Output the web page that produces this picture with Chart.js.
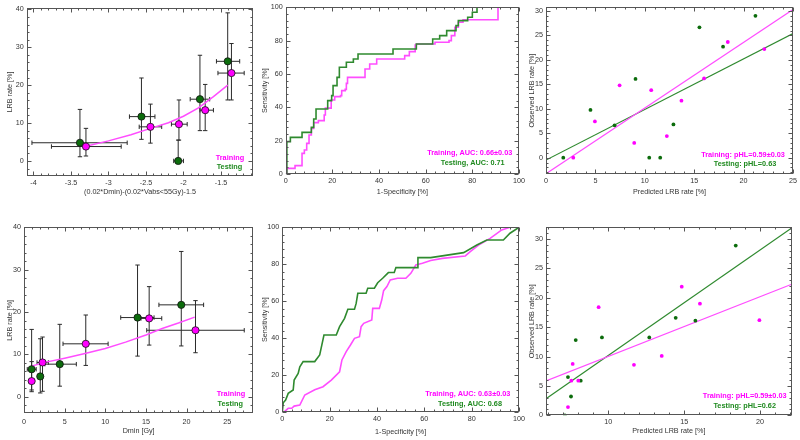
<!DOCTYPE html>
<html>
<head>
<meta charset="utf-8">
<title>LRB rate: models, ROC and calibration</title>
<script src="https://cdn.jsdelivr.net/npm/chart.js@4.4.1/dist/chart.umd.min.js"></script>
<style>
  html, body { margin: 0; padding: 0; background: #fff; }
  #wrap { position: relative; width: 800px; height: 440px; overflow: hidden; background: #fff; }
  #wrap canvas { position: absolute; }
</style>
</head>
<body>
<div id="wrap">
  <canvas id="chart-comb-rate" width="258" height="200" style="left:0;top:0"></canvas>
  <canvas id="chart-comb-roc" width="270" height="200" style="left:258px;top:0"></canvas>
  <canvas id="chart-comb-cal" width="274" height="200" style="left:526px;top:0"></canvas>
  <canvas id="chart-dmin-rate" width="258" height="220" style="left:0;top:220px"></canvas>
  <canvas id="chart-dmin-roc" width="270" height="220" style="left:258px;top:220px"></canvas>
  <canvas id="chart-dmin-cal" width="274" height="220" style="left:526px;top:220px"></canvas>
</div>
<script>
// ---- Top row: combined model (0.02*Dmin)-(0.02*Vabs<55Gy)-1.5 ----
var combTrainX    = [-3.30, -2.44, -2.06, -1.71, -1.36];
var combTrainY    = [3.8, 9.0, 9.7, 13.4, 23.2];
var combTrainXLo  = [-3.76, -2.59, -2.16, -1.78, -1.54];
var combTrainXHi  = [-2.83, -2.29, -1.95, -1.60, -1.19];
var combTrainYLo  = [1.3, 4.7, 5.5, 8.0, 16.1];
var combTrainYHi  = [8.6, 15.0, 16.1, 20.2, 31.0];

var combTestX     = [-3.38, -2.56, -2.07, -1.78, -1.41];
var combTestY     = [4.8, 11.7, 0, 16.3, 26.3];
var combTestXLo   = [-4.02, -2.72, -2.13, -1.91, -1.56];
var combTestXHi   = [-2.75, -2.38, -2.00, -1.65, -1.25];
var combTestYLo   = [1.1, 5.7, 0, 8.0, 16.1];
var combTestYHi   = [13.6, 21.9, 5.5, 27.9, 39.1];

var combFitX      = [-3.3, -3.0, -2.7, -2.44, -2.2, -2.0, -1.8, -1.6, -1.41];
var combFitY      = [3.9, 5.3, 6.9, 8.6, 10.1, 11.8, 14.0, 17.0, 20.0];

var combRocTrainFpr = [0, 0.5, 4, 7, 8, 9, 10, 11, 12, 14, 16.5, 17, 19.5, 21, 23.5, 24, 25.5, 26, 26.5, 34, 36, 39, 51, 53, 55.5, 56, 64, 70, 71, 72.5, 74, 76, 91, 100];
var combRocTrainTpr = [0, 3.4, 5, 12.4, 14.4, 18.4, 23.4, 27.4, 30.8, 32, 35.4, 39.5, 44.4, 46.4, 47, 50, 50.8, 54.4, 58, 63, 66, 69, 71, 73.4, 77.4, 78, 79, 80, 83, 88, 91, 92.5, 100, 100];
var combRocTestFpr  = [0, 0.5, 2, 7, 11, 12, 13, 18, 19.7, 20.3, 22, 23, 26, 29, 31, 46, 56, 63, 66, 69, 73, 74, 78, 80, 82, 100];
var combRocTestTpr  = [0, 19.4, 22, 25, 28, 33, 39, 44, 47, 53, 58, 64, 67, 69, 72, 75, 78, 81, 83, 86, 89, 92, 94, 97, 100, 100];

var combCalTrainX = [2.76, 4.95, 7.45, 8.93, 10.65, 12.23, 13.71, 16.0, 18.4, 22.1];
var combCalTrainY = [0, 7.4, 14.8, 3.0, 13.8, 4.4, 11.66, 16.2, 23.65, 22.2];
var combCalTestX  = [1.75, 4.5, 6.94, 9.06, 10.45, 11.56, 12.9, 15.53, 17.92, 21.2];
var combCalTestY  = [0, 9.75, 6.6, 16.1, 0, 0, 6.8, 26.65, 22.7, 29.0];
var combCalLineX  = [0, 25];
var combCalTrainLineY = [-3.3, 30.3];
var combCalTestLineY  = [-0.5, 25.4];

// ---- Bottom row: Dmin model ----
var dminTrainX    = [0.94, 2.28, 7.6, 15.4, 21.1];
var dminTrainY    = [3.7, 8.1, 12.5, 18.5, 15.7];
var dminTrainXLo  = [0.6, 1.6, 4.8, 14.4, 15.1];
var dminTrainXHi  = [1.3, 3.0, 10.35, 16.95, 27.1];
var dminTrainYLo  = [1.2, 1.3, 7.4, 12.2, 10.4];
var dminTrainYHi  = [8.3, 14.1, 19.3, 26.0, 22.7];

var dminTestX     = [0.94, 2.0, 4.4, 13.97, 19.35];
var dminTestY     = [6.5, 4.8, 7.7, 18.7, 21.7];
var dminTestXLo   = [0.4, 1.7, 2.57, 11.9, 16.6];
var dminTestXHi   = [1.5, 2.3, 6.44, 16.0, 22.1];
var dminTestYLo   = [1.6, 0.9, 2.5, 9.6, 12.0];
var dminTestYHi   = [15.9, 13.7, 17.1, 31.1, 34.3];

var dminFitX      = [1.0, 3, 5, 7.5, 10, 12.5, 15, 17, 19, 21];
var dminFitY      = [7.3, 8.3, 9.1, 10.2, 11.4, 12.9, 14.6, 16.1, 17.4, 18.8];

var dminRocTrainFpr = [0, 0.7, 2.5, 4, 5, 7.4, 9.5, 13.7, 17.2, 20.7, 24.2, 25.2, 27, 28.8, 30.5, 32.6, 33.3, 34.4, 37.8, 38.2, 41, 42, 42.8, 44.2, 45.6, 48.7, 52.2, 54.3, 56.4, 59.2, 62.7, 67.6, 77.3, 79.4, 82.9, 87.8, 92.7, 96.2, 100];
var dminRocTrainTpr = [0, 0, 2, 2, 3.2, 3.8, 9.2, 12, 13.7, 17.3, 21.8, 28.2, 32.7, 36.3, 39.9, 40.8, 46.2, 48, 49.8, 56.1, 56.1, 60.6, 65.7, 67.9, 71.5, 72.4, 72.4, 75.1, 79.6, 80.5, 82, 83.2, 84.5, 86.8, 90.4, 94, 98.6, 100, 100];
var dminRocTestFpr  = [0, 0.4, 1.4, 2.5, 4.6, 5, 6.7, 7.4, 8.8, 13.7, 15.8, 17.6, 22.8, 24.2, 26.3, 27.7, 30.5, 31.2, 31.9, 35.4, 36.1, 38.9, 40.3, 42.4, 44.8, 47.3, 48, 57.1, 57.3, 62.7, 76.6, 82.2, 86.4, 93.4, 96.2, 100];
var dminRocTestTpr  = [0, 5, 6.5, 10.1, 11.9, 17.3, 20.9, 24.5, 27.3, 27.3, 30.9, 41.7, 41.7, 46.2, 50.7, 55.6, 55.6, 58.8, 64.3, 64.3, 67, 67, 70, 72.4, 75.5, 75.5, 78.2, 78.2, 83.6, 83.6, 86.3, 90.4, 93.1, 93.1, 96.8, 100];

var dminCalTrainX = [7.34, 7.56, 8.02, 7.65, 9.36, 11.69, 13.52, 14.84, 16.04, 19.96];
var dminCalTrainY = [1.4, 5.9, 5.9, 8.75, 18.4, 8.6, 10.1, 21.9, 19.0, 16.2];
var dminCalTestX  = [7.14, 7.54, 7.34, 8.18, 7.85, 9.58, 12.7, 14.44, 15.74, 18.4];
var dminCalTestY  = [0, 3.2, 6.5, 5.9, 12.8, 13.25, 13.25, 16.6, 16.1, 28.9];
var dminCalLineX  = [5.89, 22.09];
var dminCalTrainLineY = [5.87, 22.3];
var dminCalTestLineY  = [2.8, 31.9];

// ---- Tick labels ----
var combRateXTicks = [-4, -3.5, -3, -2.5, -2, -1.5];
var rateYTicks     = [0, 10, 20, 30, 40];
var rocTicks       = [0, 20, 40, 60, 80, 100];
var combCalXTicks  = [0, 5, 10, 15, 20, 25];
var calYTicks      = [0, 5, 10, 15, 20, 25, 30];
var dminRateXTicks = [0, 5, 10, 15, 20, 25];
var dminCalXTicks  = [10, 15, 20];

(function() {
    'use strict';

    var FONT = "'Liberation Sans', Arial, sans-serif";
    var TXT = '#333';
    var PINK = '#ff00ff';
    var PINK_LINE = '#ff4dff';
    var GREEN = '#0c6c0c';
    var GREEN_LINE = '#2f8a2f';
    var GREEN_TXT = '#1f8a1f';

    function pts(xs, ys) {
        var out = [];
        for (var i = 0; i < xs.length; i++) out.push({ x: xs[i], y: ys[i] });
        return out;
    }

    // linear axis with fixed tick list and fixed box size (so chart areas line up)
    function makeAxis(o) {
        return {
            type: 'linear',
            min: o.min,
            max: o.max,
            afterBuildTicks: function(s) {
                s.ticks = o.ticks.map(function(v) { return { value: v }; });
            },
            afterFit: function(s) {
                if (s.isHorizontal()) s.height = o.size; else s.width = o.size;
            },
            grid: { display: false, drawTicks: false },
            border: { display: false },
            ticks: {
                color: TXT, autoSkip: false, maxRotation: 0,
                padding: o.tickPad == null ? 3 : o.tickPad,
                font: { size: 7.2, family: FONT },
                callback: function(v) { return String(v); }
            },
            title: {
                display: true, text: o.title, color: TXT,
                padding: { top: o.titlePad, bottom: o.titlePad },
                font: { size: 7.2, family: FONT }
            }
        };
    }

    // box around plot area with inward major/minor ticks on all four sides
    var framePlugin = {
        id: 'frame',
        afterDatasetsDraw: function(chart) {
            var a = chart.chartArea, ctx = chart.ctx;
            var L = Math.round(a.left) + 0.5, R = Math.round(a.right) - 0.5;
            var T = Math.round(a.top) + 0.5, B = Math.round(a.bottom) - 0.5;
            ctx.save();
            ctx.strokeStyle = '#555';
            ctx.lineWidth = 1;
            ctx.strokeRect(L, T, R - L, B - T);
            ctx.beginPath();
            eachTick(chart.scales.x, function(p, len) {
                p = Math.round(p) + 0.5;
                ctx.moveTo(p, B); ctx.lineTo(p, B - len);
                ctx.moveTo(p, T); ctx.lineTo(p, T + len);
            });
            eachTick(chart.scales.y, function(p, len) {
                p = Math.round(p) + 0.5;
                ctx.moveTo(L, p); ctx.lineTo(L + len, p);
                ctx.moveTo(R, p); ctx.lineTo(R - len, p);
            });
            ctx.stroke();
            ctx.restore();
        }
    };

    function eachTick(scale, cb) {
        var vals = scale.ticks.map(function(t) { return t.value; });
        var step = vals[1] - vals[0], minor = step / 5;
        var n0 = Math.floor((vals[0] - scale.min) / minor + 1e-6);
        var start = vals[0] - n0 * minor;
        for (var i = 0; start + i * minor <= scale.max + 1e-9; i++) {
            var v = start + i * minor;
            var k = (v - vals[0]) / step;
            var major = Math.abs(k - Math.round(k)) < 1e-6;
            cb(scale.getPixelForValue(v), major ? 4 : 2);
        }
    }

    // horizontal and vertical error bars, drawn below the points
    function errorBarPlugin(sets) {
        return {
            id: 'errbars',
            beforeDatasetsDraw: function(chart) {
                var xs = chart.scales.x, ys = chart.scales.y, ctx = chart.ctx;
                var cap = 2.2;
                ctx.save();
                ctx.strokeStyle = '#2a2a2a';
                ctx.lineWidth = 1;
                ctx.beginPath();
                sets.forEach(function(s) {
                    for (var i = 0; i < s.x.length; i++) {
                        var px = xs.getPixelForValue(s.x[i]), py = ys.getPixelForValue(s.y[i]);
                        var x0 = xs.getPixelForValue(s.xLo[i]), x1 = xs.getPixelForValue(s.xHi[i]);
                        var y0 = ys.getPixelForValue(s.yLo[i]), y1 = ys.getPixelForValue(s.yHi[i]);
                        ctx.moveTo(x0, py); ctx.lineTo(x1, py);
                        ctx.moveTo(x0, py - cap); ctx.lineTo(x0, py + cap);
                        ctx.moveTo(x1, py - cap); ctx.lineTo(x1, py + cap);
                        ctx.moveTo(px, y0); ctx.lineTo(px, y1);
                        ctx.moveTo(px - cap, y0); ctx.lineTo(px + cap, y0);
                        ctx.moveTo(px - cap, y1); ctx.lineTo(px + cap, y1);
                    }
                });
                ctx.stroke();
                ctx.restore();
            }
        };
    }

    // in-plot legend text, placed relative to the lower right corner
    function labelPlugin(lines) {
        return {
            id: 'inlineLabels',
            afterDraw: function(chart) {
                var a = chart.chartArea, ctx = chart.ctx;
                ctx.save();
                ctx.font = 'bold 7.3px ' + FONT;
                ctx.textAlign = 'center';
                ctx.textBaseline = 'middle';
                lines.forEach(function(l) {
                    ctx.fillStyle = l.color;
                    ctx.fillText(l.text, a.right + l.dx, a.bottom + l.dy);
                });
                ctx.restore();
            }
        };
    }

    function circleSet(xs, ys, fill) {
        return {
            type: 'scatter', data: pts(xs, ys),
            backgroundColor: fill, borderColor: '#111', borderWidth: 0.8,
            pointRadius: 3.6, order: 1
        };
    }

    function dotSet(xs, ys, fill) {
        return {
            type: 'scatter', data: pts(xs, ys),
            backgroundColor: fill, borderColor: fill, borderWidth: 0,
            pointRadius: 1.9, order: 1
        };
    }

    function lineSet(xs, ys, color, width, stepped, order) {
        return {
            type: 'line', data: pts(xs, ys),
            borderColor: color, backgroundColor: color, borderWidth: width,
            pointRadius: 0, fill: false, tension: 0,
            stepped: stepped || false, order: order || 5
        };
    }

    function draw(id, pad, xAxis, yAxis, datasets, plugins) {
        var canvas = document.getElementById(id);
        if (!canvas) return;
        new Chart(canvas.getContext('2d'), {
            type: 'scatter',
            data: { datasets: datasets },
            options: {
                responsive: false,
                animation: false,
                layout: { padding: pad },
                scales: { x: xAxis, y: yAxis },
                plugins: { legend: { display: false }, tooltip: { enabled: false } }
            },
            plugins: [framePlugin].concat(plugins || [])
        });
    }

    /**
     * Top left - observed rate vs combined model
     */
    function renderCombRate() {
        draw('chart-comb-rate', { left: 0, top: 8.3, right: 3, bottom: 0 },
            makeAxis({ min: -4.09, max: -1.07, ticks: combRateXTicks, size: 24.3, titlePad: 3.7,
                title: '(0.02*Dmin)-(0.02*Vabs<55Gy)-1.5' }),
            makeAxis({ min: -3.9, max: 40.3, ticks: rateYTicks, size: 26.7, titlePad: 5.7,
                title: 'LRB rate [%]' }),
            [
                circleSet(combTrainX, combTrainY, PINK),
                circleSet(combTestX, combTestY, GREEN),
                lineSet(combFitX, combFitY, PINK_LINE, 1.5)
            ],
            [
                errorBarPlugin([
                    { x: combTestX, y: combTestY, xLo: combTestXLo, xHi: combTestXHi, yLo: combTestYLo, yHi: combTestYHi },
                    { x: combTrainX, y: combTrainY, xLo: combTrainXLo, xHi: combTrainXHi, yLo: combTrainYLo, yHi: combTrainYHi }
                ]),
                labelPlugin([
                    { text: 'Training', color: PINK, dx: -23.3, dy: -17.4 },
                    { text: 'Testing', color: GREEN_TXT, dx: -23.8, dy: -8.4 }
                ])
            ]);
    }

    /**
     * Top middle - ROC curve
     */
    function renderCombRoc() {
        draw('chart-comb-roc', { left: 0, top: 7.3, right: 9, bottom: 0 },
            makeAxis({ min: 0, max: 100, ticks: rocTicks, size: 26, titlePad: 4, title: '1-Specificity [%]' }),
            makeAxis({ min: 0, max: 100, ticks: rocTicks, size: 27.7, titlePad: 2.7, title: 'Sensitivity [%]' }),
            [
                lineSet(combRocTestFpr, combRocTestTpr, GREEN_LINE, 1.6, 'before', 1),
                lineSet(combRocTrainFpr, combRocTrainTpr, PINK_LINE, 1.6, 'before', 2)
            ],
            [
                labelPlugin([
                    { text: 'Training, AUC: 0.66\u00b10.03', color: PINK, dx: -49.3, dy: -20.7 },
                    { text: 'Testing, AUC: 0.71', color: GREEN_TXT, dx: -46.3, dy: -10.7 }
                ])
            ]);
    }

    /**
     * Top right - calibration, observed vs predicted
     */
    function renderCombCal() {
        draw('chart-comb-cal', { left: 0, top: 7.3, right: 6.7, bottom: 0 },
            makeAxis({ min: 0, max: 25, ticks: combCalXTicks, size: 26, titlePad: 4, title: 'Predicted LRB rate [%]' }),
            makeAxis({ min: -3.35, max: 30.75, ticks: calYTicks, size: 20, titlePad: 1.4, title: 'Observed LRB rate [%]' }),
            [
                dotSet(combCalTrainX, combCalTrainY, PINK),
                dotSet(combCalTestX, combCalTestY, GREEN),
                lineSet(combCalLineX, combCalTrainLineY, PINK_LINE, 1.2),
                lineSet(combCalLineX, combCalTestLineY, GREEN_LINE, 1.2)
            ],
            [
                labelPlugin([
                    { text: 'Training: pHL=0.59\u00b10.03', color: PINK, dx: -50, dy: -19.3 },
                    { text: 'Testing: pHL=0.63', color: GREEN_TXT, dx: -48, dy: -10 }
                ])
            ]);
    }

    /**
     * Bottom left - observed rate vs Dmin
     */
    function renderDminRate() {
        draw('chart-dmin-rate', { left: 0, top: 7.3, right: 3, bottom: 0 },
            makeAxis({ min: 0, max: 28.2, ticks: dminRateXTicks, size: 26.7, titlePad: 5, tickPad: 4, title: 'Dmin [Gy]' }),
            makeAxis({ min: -3.9, max: 40, ticks: rateYTicks, size: 24, titlePad: 5.7, title: 'LRB rate [%]' }),
            [
                circleSet(dminTrainX, dminTrainY, PINK),
                circleSet(dminTestX, dminTestY, GREEN),
                lineSet(dminFitX, dminFitY, PINK_LINE, 1.5)
            ],
            [
                errorBarPlugin([
                    { x: dminTestX, y: dminTestY, xLo: dminTestXLo, xHi: dminTestXHi, yLo: dminTestYLo, yHi: dminTestYHi },
                    { x: dminTrainX, y: dminTrainY, xLo: dminTrainXLo, xHi: dminTrainXHi, yLo: dminTrainYLo, yHi: dminTrainYHi }
                ]),
                labelPlugin([
                    { text: 'Training', color: PINK, dx: -22.3, dy: -19 },
                    { text: 'Testing', color: GREEN_TXT, dx: -23, dy: -9.6 }
                ])
            ]);
    }

    /**
     * Bottom middle - ROC curve
     */
    function renderDminRoc() {
        draw('chart-dmin-roc', { left: 0, top: 7.3, right: 7.3, bottom: 0 },
            makeAxis({ min: 0, max: 100, ticks: rocTicks, size: 28, titlePad: 3.7, title: '1-Specificity [%]' }),
            makeAxis({ min: 0, max: 100, ticks: rocTicks, size: 24.3, titlePad: 2.7, title: 'Sensitivity [%]' }),
            [
                lineSet(dminRocTestFpr, dminRocTestTpr, GREEN_LINE, 1.6, false, 1),
                lineSet(dminRocTrainFpr, dminRocTrainTpr, PINK_LINE, 1.6, false, 2)
            ],
            [
                labelPlugin([
                    { text: 'Training, AUC: 0.63\u00b10.03', color: PINK, dx: -51.2, dy: -18 },
                    { text: 'Testing, AUC: 0.68', color: GREEN_TXT, dx: -49, dy: -8.3 }
                ])
            ]);
    }

    /**
     * Bottom right - calibration, observed vs predicted
     */
    function renderDminCal() {
        draw('chart-dmin-cal', { left: 0, top: 6, right: 8.3, bottom: 0 },
            makeAxis({ min: 5.89, max: 22.09, ticks: dminCalXTicks, size: 24.7, titlePad: 4.7, tickPad: 2.5, title: 'Predicted LRB rate [%]' }),
            makeAxis({ min: 0, max: 32, ticks: calYTicks, size: 20, titlePad: 1.4, title: 'Observed LRB rate [%]' }),
            [
                dotSet(dminCalTrainX, dminCalTrainY, PINK),
                dotSet(dminCalTestX, dminCalTestY, GREEN),
                lineSet(dminCalLineX, dminCalTrainLineY, PINK_LINE, 1.2),
                lineSet(dminCalLineX, dminCalTestLineY, GREEN_LINE, 1.2)
            ],
            [
                labelPlugin([
                    { text: 'Training: pHL=0.59\u00b10.03', color: PINK, dx: -47, dy: -19.6 },
                    { text: 'Testing: pHL=0.62', color: GREEN_TXT, dx: -47, dy: -9.6 }
                ])
            ]);
    }

    function initCharts() {
        renderCombRate();
        renderCombRoc();
        renderCombCal();
        renderDminRate();
        renderDminRoc();
        renderDminCal();
    }

    if (document.readyState === 'loading') {
        document.addEventListener('DOMContentLoaded', initCharts);
    } else {
        initCharts();
    }
})();
</script>
</body>
</html>
